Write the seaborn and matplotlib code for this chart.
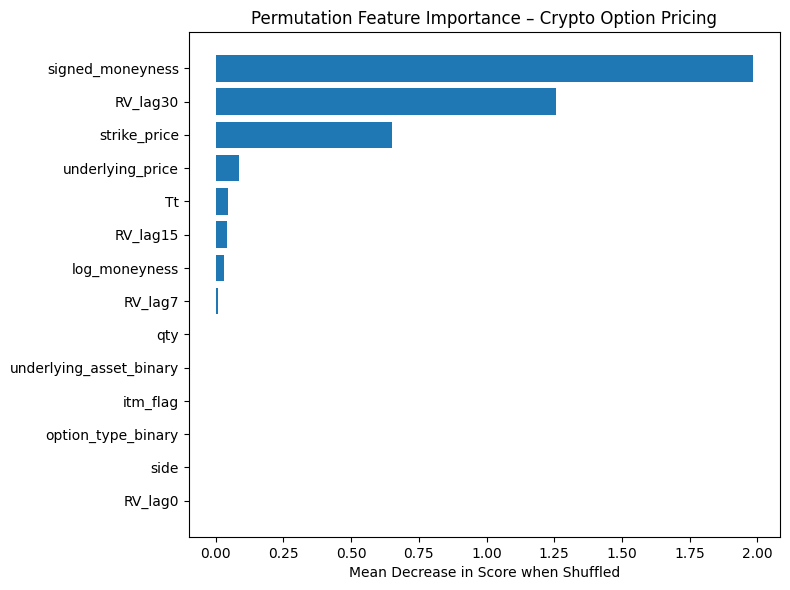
import numpy as np
import pandas as pd
import matplotlib
matplotlib.use("Agg")
import matplotlib.pyplot as plt
import seaborn as sns

features = ["signed_moneyness", "RV_lag30", "strike_price", "underlying_price", "Tt",
            "RV_lag15", "log_moneyness", "RV_lag7", "qty", "underlying_asset_binary",
            "itm_flag", "option_type_binary", "side", "RV_lag0"]
importance = [1.985, 1.256, 0.651, 0.085, 0.044, 0.041, 0.030, 0.009,
              0.0, 0.0, 0.0, 0.0, 0.0, 0.0]

imp_df = pd.DataFrame({"feature": features, "importance": importance})

fig, ax = plt.subplots(figsize=(7.9, 5.9), dpi=100)
sns.barplot(data=imp_df, x="importance", y="feature", orient="h",
            color="#1f77b4", saturation=1, width=0.8, ax=ax)

# match matplotlib barh default margins
n = len(features)
pad = 0.05 * (n - 1 + 0.8)
ax.set_ylim(n - 1 + 0.4 + pad, -0.4 - pad)
ax.set_xlim(-0.05 * max(importance), max(importance) * 1.05)

ax.set_title("Permutation Feature Importance – Crypto Option Pricing")
ax.set_xlabel("Mean Decrease in Score when Shuffled")
ax.set_ylabel("")
plt.tight_layout(pad=0.7)
plt.savefig("out.png")
